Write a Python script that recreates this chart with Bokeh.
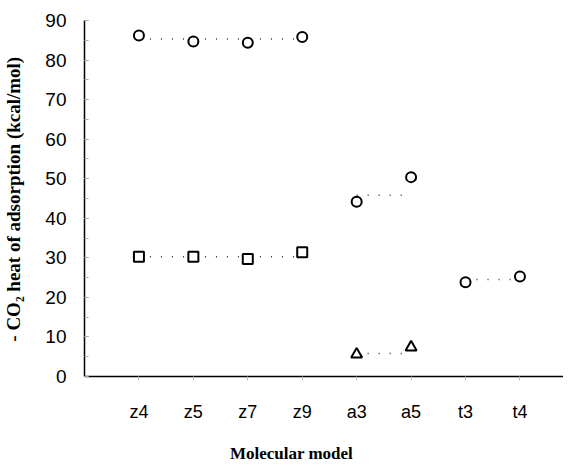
from bokeh.plotting import figure
from bokeh.models import Range1d, FixedTicker, Label
from bokeh.embed import file_html
from bokeh.resources import INLINE

# ---- data ----
models = ["z4", "z5", "z7", "z9", "a3", "a5", "t3", "t4"]
positions = [1, 2, 3, 4, 5, 6, 7, 8]

circle_models = ["z4", "z5", "z7", "z9", "a3", "a5", "t3", "t4"]
circle_values = [86.2, 84.7, 84.4, 85.8, 44.2, 50.4, 23.8, 25.3]

square_models = ["z4", "z5", "z7", "z9"]
square_values = [30.3, 30.3, 29.7, 31.4]

triangle_models = ["a3", "a5"]
triangle_values = [5.6, 7.4]

# dotted group-average lines
avg_start = ["z4", "z4", "a3", "a3", "t3"]
avg_end = ["z9", "z9", "a5", "a5", "t4"]
avg_values = [85.3, 30.3, 45.8, 5.8, 24.5]

y_ticks = [0, 10, 20, 30, 40, 50, 60, 70, 80, 90]
y_minor = [0, 5, 10, 15, 20, 25, 30, 35, 40, 45, 50, 55, 60, 65, 70, 75, 80, 85, 90]

pos = dict(zip(models, positions))

p = figure(width=563, height=463, output_backend="svg", toolbar_location=None,
           x_range=Range1d(0, 8.8), y_range=Range1d(-22, 90),
           min_border_left=80, min_border_right=0, min_border_top=20,
           min_border_bottom=0)
p.outline_line_color = None
p.xgrid.visible = False
p.ygrid.visible = False
p.background_fill_color = "white"
p.border_fill_color = "white"

# dotted average lines
p.segment(x0=[pos[m] for m in avg_start], y0=avg_values,
          x1=[pos[m] for m in avg_end], y1=avg_values,
          line_color="#333333", line_width=1.5, line_dash="1 10")

p.scatter([pos[m] for m in circle_models], circle_values, marker="circle", size=10,
          line_color="black", line_width=2, fill_color="white")
p.scatter([pos[m] for m in square_models], square_values, marker="square", size=10,
          line_color="black", line_width=2, fill_color="white")
p.scatter([pos[m] for m in triangle_models], triangle_values, marker="triangle", size=11,
          line_color="black", line_width=2, fill_color="white")

# x axis, drawn at y = 0
xa = p.xaxis[0]
xa.fixed_location = 0
xa.ticker = FixedTicker(ticks=positions)
xa.major_label_overrides = {k: v for k, v in zip(positions, models)}
xa.axis_line_color = "black"
xa.axis_line_width = 1.5
xa.major_tick_in = 0
xa.major_tick_out = 4
xa.major_tick_line_color = "#bbbbbb"
xa.minor_tick_line_color = None
xa.major_label_standoff = 22
xa.major_label_text_font = "Liberation Sans"
xa.major_label_text_font_size = "18px"
xa.major_label_text_color = "black"

# y axis
ya = p.yaxis[0]
ya.bounds = (0, 90)
ya.ticker = FixedTicker(ticks=y_ticks, minor_ticks=y_minor)
ya.axis_line_color = "black"
ya.axis_line_width = 1.5
ya.major_tick_in = 4
ya.major_tick_out = 0
ya.minor_tick_in = 4
ya.minor_tick_out = 0
ya.major_tick_line_color = "#888888"
ya.minor_tick_line_color = "#aaaaaa"
ya.major_label_standoff = 18
ya.major_label_text_font = "Liberation Sans"
ya.major_label_text_font_size = "19px"
ya.major_label_text_color = "black"
# leading no-break spaces lift the label so it centres on the 0-90 span
ya.axis_label = "\u00a0" * 18 + "- CO\u2082 heat of adsorption (kcal/mol)"
ya.axis_label_text_font = "Liberation Serif"
ya.axis_label_text_font_style = "bold"
ya.axis_label_text_font_size = "19px"
ya.axis_label_text_color = "black"
ya.axis_label_standoff = 18

xlabel = Label(x=207, y=10, x_units="screen", y_units="screen",
               text="Molecular model", text_align="center", text_baseline="alphabetic",
               text_font="Liberation Serif", text_font_style="bold",
               text_font_size="17px", text_color="black")
p.add_layout(xlabel)

open("out.html", "w").write(file_html(p, INLINE))
